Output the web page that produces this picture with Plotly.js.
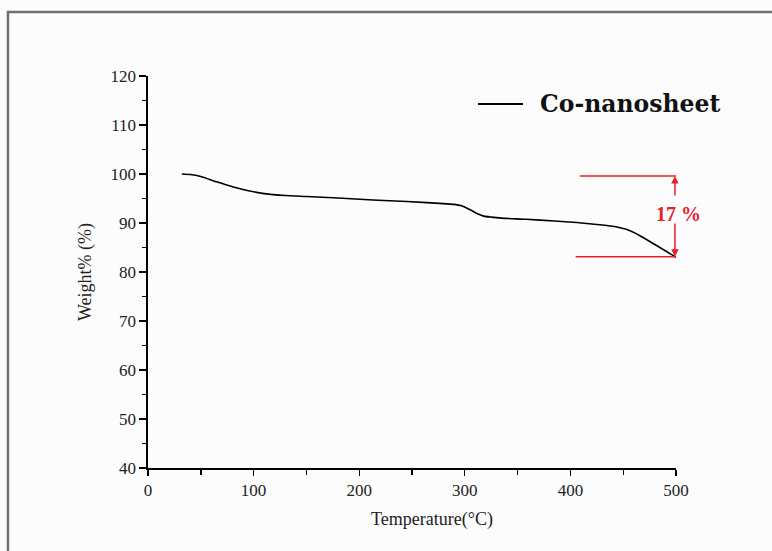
<!DOCTYPE html>
<html>
<head>
<meta charset="utf-8">
<script src="https://cdn.plot.ly/plotly-3.0.1.min.js"></script>
<style>html,body{margin:0;padding:0;background:#fcfcfc;}#chart{width:772px;height:551px;}</style>
</head>
<body>
<div id="chart"></div>
<script>
// Temperature (°C) and Weight%
var temperature = [32, 40, 50, 65, 80, 95, 110, 130, 150, 180, 213, 245, 276, 290, 297, 305, 312, 318, 325, 335, 358, 385, 406, 425, 444, 453, 465, 480, 497, 500];
var weight = [100.0, 99.9, 99.5, 98.4, 97.4, 96.6, 96.0, 95.6, 95.4, 95.1, 94.7, 94.4, 94.0, 93.8, 93.5, 92.7, 91.9, 91.4, 91.2, 91.0, 90.75, 90.4, 90.1, 89.7, 89.2, 88.7, 87.5, 85.6, 83.4, 83.0];
var seriesName = "Co-nanosheet";
var xTicks = [0, 100, 200, 300, 400, 500];
var yTicks = [40, 50, 60, 70, 80, 90, 100, 110, 120];
var xTitle = "Temperature(°C)";
var yTitle = "Weight% (%)";
var lossLabel = "17 %";
var lossTop = 99.6;
var lossBottom = 83.1;
var lossX = 499;

var serif = "'Liberation Serif', 'Times New Roman', serif";
var red = "#e8202a";

var trace = {
  x: temperature, y: weight, type: "scatter", mode: "lines",
  name: seriesName,
  line: {color: "#000000", width: 1.6, shape: "spline", smoothing: 0.6},
  showlegend: false
};

var layout = {
  width: 772, height: 551,
  paper_bgcolor: "#fcfcfc", plot_bgcolor: "#fcfcfc",
  margin: {l: 148, r: 96, t: 76, b: 83},
  xaxis: {
    range: [0, 500], tickvals: xTicks, ticktext: xTicks.map(String),
    showgrid: false, zeroline: false, showline: true, linecolor: "#000", linewidth: 1.6,
    ticks: "outside", ticklen: 6, tickwidth: 1.4, tickcolor: "#000",
    minor: {dtick: 50, ticks: "outside", ticklen: 5, tickwidth: 1.4, tickcolor: "#000", showgrid: false},
    tickfont: {family: serif, size: 17, color: "#222"}
  },
  yaxis: {
    range: [40, 120], tickvals: yTicks, ticktext: yTicks.map(String),
    showgrid: false, zeroline: false, showline: true, linecolor: "#000", linewidth: 1.6,
    ticks: "outside", ticklen: 7, tickwidth: 1.4, tickcolor: "#000",
    minor: {dtick: 5, ticks: "outside", ticklen: 4, tickwidth: 1.4, tickcolor: "#000", showgrid: false},
    tickfont: {family: serif, size: 17, color: "#222"},
    title: {text: yTitle, font: {family: serif, size: 18, color: "#222"}, standoff: 14}
  },
  shapes: [
    // picture frame
    {type: "rect", xref: "paper", yref: "paper", x0: -0.2652, x1: 2, y0: -1, y1: 1.1633,
     line: {color: "#707070", width: 2.5}, fillcolor: "rgba(0,0,0,0)", layer: "below"},
    // legend line
    {type: "line", xref: "paper", yref: "paper", x0: (478-148)/528, x1: (523-148)/528,
     y0: (468-104)/392, y1: (468-104)/392, line: {color: "#000", width: 2.2}},
    // red guide lines
    {type: "line", xref: "x", yref: "y", x0: 409, x1: 513, y0: lossTop, y1: lossTop,
     line: {color: red, width: 1.6}},
    {type: "line", xref: "x", yref: "y", x0: 405, x1: 524, y0: lossBottom, y1: lossBottom,
     line: {color: red, width: 1.6}}
  ],
  annotations: [
    {xref: "paper", yref: "paper", x: (432-148)/528, y: (468-519)/392, xanchor: "center", yanchor: "middle",
     text: xTitle, showarrow: false, font: {family: serif, size: 18, color: "#222"}},
    {xref: "paper", yref: "paper", x: (538-148)/528, y: (468-104)/392, xanchor: "left", yanchor: "middle",
     text: "<b>" + seriesName + "</b>", showarrow: false,
     font: {family: "'DejaVu Serif', serif", size: 23.5, color: "#111"}},
    {xref: "x", yref: "y", x: lossX, y: lossTop, axref: "x", ayref: "y", ax: lossX, ay: 95.3,
     text: "", showarrow: true, arrowhead: 2, arrowsize: 1, arrowwidth: 1.5, arrowcolor: red},
    {xref: "x", yref: "y", x: lossX, y: lossBottom, axref: "x", ayref: "y", ax: lossX, ay: 90.2,
     text: "", showarrow: true, arrowhead: 2, arrowsize: 1, arrowwidth: 1.5, arrowcolor: red},
    {xref: "paper", yref: "y", x: (678-148)/528, y: 91.8, text: "<b>" + lossLabel + "</b>", showarrow: false,
     xanchor: "center", yanchor: "middle",
     font: {family: serif, size: 20, color: red}}
  ]
};

Plotly.newPlot("chart", [trace], layout, {displayModeBar: false, staticPlot: true});
</script>
</body>
</html>
